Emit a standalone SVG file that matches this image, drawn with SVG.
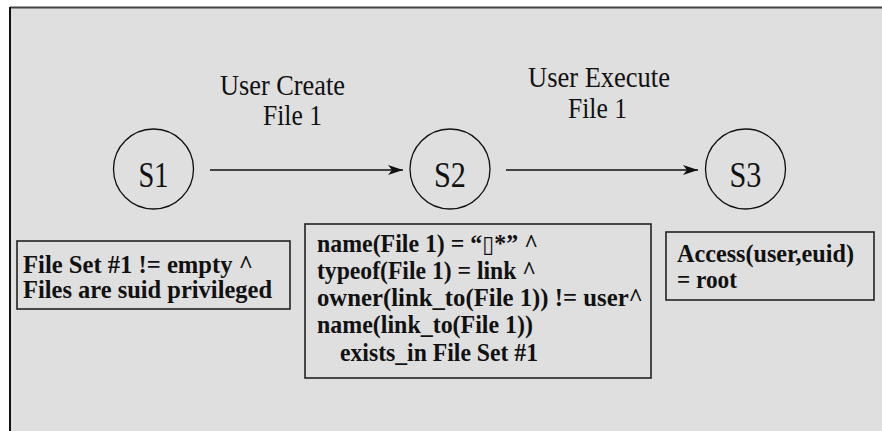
<svg xmlns="http://www.w3.org/2000/svg" width="882" height="431" viewBox="0 0 882 431">
  <style>
    .lbl { font-family: "Liberation Serif", "Times New Roman", serif; font-size: 30px; fill: #111; }
    .st { font-family: "Liberation Serif", "Times New Roman", serif; font-size: 35px; fill: #111; }
    .cond { font-family: "Liberation Serif", "Times New Roman", serif; font-size: 25px; font-weight: bold; fill: #111; }
    .glyph { font-family: "DejaVu Sans", sans-serif; font-weight: normal; font-size: 23px; }
    .state { fill: none; stroke: #111; stroke-width: 1.3; }
    .box { fill: #dfdfdf; stroke: #222; stroke-width: 1.6; }
    .edge { stroke: #111; stroke-width: 1.4; fill: none; marker-end: url(#arrow); }
  </style>
  <defs>
    <marker id="arrow" markerUnits="userSpaceOnUse" markerWidth="16" markerHeight="10" refX="15" refY="5" orient="auto">
      <path d="M0,0 L15,5 L0,10 L4,5 z" fill="#111"/>
    </marker>
  </defs>

  <!-- page background and frame -->
  <rect x="0" y="0" width="882" height="431" fill="#ffffff"/>
  <rect x="10" y="7.5" width="900" height="450" fill="#dfdfdf"/>
  <line x1="10" y1="7.5" x2="882" y2="7.5" stroke="#444" stroke-width="2"/>
  <line x1="10" y1="7" x2="10" y2="431" stroke="#111" stroke-width="2"/>

  <!-- transitions -->
  <g id="connectors">
    <line class="edge" x1="210" y1="170" x2="403" y2="170"/>
    <line class="edge" x1="506" y1="170" x2="698" y2="170"/>
    <text class="lbl" x="220" y="95" textLength="125" lengthAdjust="spacingAndGlyphs">User Create</text>
    <text class="lbl" x="263" y="125" textLength="59" lengthAdjust="spacingAndGlyphs">File 1</text>
    <text class="lbl" x="528" y="87" textLength="142" lengthAdjust="spacingAndGlyphs">User Execute</text>
    <text class="lbl" x="568" y="118" textLength="59" lengthAdjust="spacingAndGlyphs">File 1</text>
  </g>

  <!-- states -->
  <g id="s1">
    <circle class="state" cx="153.5" cy="169" r="40"/>
    <text class="st" x="138.5" y="187" textLength="30" lengthAdjust="spacingAndGlyphs">S1</text>
  </g>
  <g id="s2">
    <circle class="state" cx="450" cy="169" r="40"/>
    <text class="st" x="434" y="187" textLength="32" lengthAdjust="spacingAndGlyphs">S2</text>
  </g>
  <g id="s3">
    <circle class="state" cx="745.5" cy="169" r="40"/>
    <text class="st" x="729.5" y="187" textLength="32" lengthAdjust="spacingAndGlyphs">S3</text>
  </g>

  <!-- state conditions -->
  <g id="cond-s1">
    <rect class="box" x="17" y="241" width="273" height="68"/>
    <text class="cond" x="23" y="273" textLength="230" lengthAdjust="spacingAndGlyphs">File Set #1 != empty ^</text>
    <text class="cond" x="23" y="298" textLength="249" lengthAdjust="spacingAndGlyphs">Files are suid privileged</text>
  </g>
  <g id="cond-s2">
    <rect class="box" x="305" y="224" width="346" height="154"/>
    <text class="cond" x="317" y="252" textLength="221" lengthAdjust="spacingAndGlyphs">name(File 1) = “<tspan class="glyph">▯</tspan>*” ^</text>
    <text class="cond" x="317" y="279" textLength="219" lengthAdjust="spacingAndGlyphs">typeof(File 1) = link ^</text>
    <text class="cond" x="317" y="306" textLength="326" lengthAdjust="spacingAndGlyphs">owner(link_to(File 1)) != user^</text>
    <text class="cond" x="317" y="333" textLength="216" lengthAdjust="spacingAndGlyphs">name(link_to(File 1))</text>
    <text class="cond" x="340" y="361" textLength="198" lengthAdjust="spacingAndGlyphs">exists_in File Set #1</text>
  </g>
  <g id="cond-s3">
    <rect class="box" x="666" y="232" width="208" height="68"/>
    <text class="cond" x="677" y="262" textLength="177" lengthAdjust="spacingAndGlyphs">Access(user,euid)</text>
    <text class="cond" x="677" y="288" textLength="60" lengthAdjust="spacingAndGlyphs">= root</text>
  </g>
</svg>
